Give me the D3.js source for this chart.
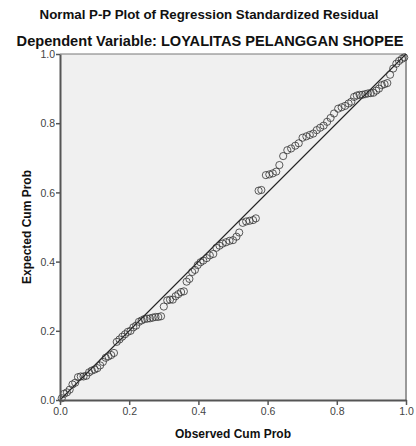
<!DOCTYPE html>
<html>
<head>
<meta charset="utf-8">
<script src="https://cdn.jsdelivr.net/npm/d3@7"></script>
<style>
  body { margin: 0; background: #fff; }
  svg { display: block; font-family: "Liberation Sans", Arial, sans-serif; }
</style>
</head>
<body>
<div id="chart"></div>
<script>
// Normal P-P plot, residuals

const TITLE = "Normal P-P Plot of Regression Standardized Residual";
const SUBTITLE = "Dependent Variable: LOYALITAS PELANGGAN SHOPEE";
const X_LABEL = "Observed Cum Prob";
const Y_LABEL = "Expected Cum Prob";
const TICKS = [0, 0.2, 0.4, 0.6, 0.8, 1.0];

// observed cum prob
const observed = [
  0.005, 0.012, 0.020, 0.028, 0.036, 0.044, 0.052, 0.060, 0.068, 0.076,
  0.084, 0.092, 0.100, 0.108, 0.116, 0.124, 0.132, 0.140, 0.148, 0.156,
  0.164, 0.172, 0.180, 0.188, 0.196, 0.204, 0.212, 0.220, 0.228, 0.236,
  0.244, 0.252, 0.260, 0.268, 0.276, 0.284, 0.292, 0.300, 0.310, 0.318,
  0.326, 0.334, 0.342, 0.350, 0.358, 0.366, 0.374, 0.382, 0.390, 0.398,
  0.406, 0.414, 0.424, 0.433, 0.443, 0.452, 0.461, 0.470, 0.480, 0.490,
  0.500, 0.510, 0.518, 0.528, 0.538, 0.548, 0.558, 0.566, 0.574, 0.582,
  0.595, 0.605, 0.615, 0.625, 0.634, 0.645, 0.657, 0.668, 0.680, 0.690,
  0.701, 0.712, 0.722, 0.732, 0.742, 0.752, 0.762, 0.772, 0.782, 0.792,
  0.804, 0.814, 0.824, 0.834, 0.842, 0.850, 0.858, 0.866, 0.874, 0.882,
  0.890, 0.898, 0.906, 0.914, 0.922, 0.930, 0.938, 0.946, 0.954, 0.963,
  0.972, 0.980, 0.988, 0.995
];
// expected cum prob
const expected = [
  0.005, 0.018, 0.022, 0.030, 0.045, 0.050, 0.066, 0.068, 0.068, 0.070,
  0.080, 0.085, 0.088, 0.092, 0.100, 0.110, 0.122, 0.126, 0.130, 0.136,
  0.168, 0.175, 0.183, 0.190, 0.197, 0.200, 0.210, 0.215, 0.226, 0.230,
  0.234, 0.235, 0.236, 0.238, 0.240, 0.240, 0.242, 0.270, 0.288, 0.290,
  0.290, 0.300, 0.306, 0.312, 0.314, 0.342, 0.350, 0.370, 0.376, 0.390,
  0.398, 0.403, 0.410, 0.418, 0.422, 0.440, 0.446, 0.452, 0.456, 0.460,
  0.462, 0.472, 0.484, 0.512, 0.516, 0.518, 0.520, 0.525, 0.605, 0.607,
  0.650, 0.652, 0.655, 0.660, 0.679, 0.705, 0.722, 0.727, 0.735, 0.742,
  0.758, 0.762, 0.766, 0.770, 0.780, 0.787, 0.793, 0.804, 0.815, 0.828,
  0.842, 0.846, 0.850, 0.857, 0.862, 0.876, 0.880, 0.882, 0.882, 0.884,
  0.886, 0.887, 0.888, 0.894, 0.900, 0.910, 0.913, 0.916, 0.940, 0.958,
  0.972, 0.980, 0.986, 0.990
];

const W = 416, H = 446;
const plot = { left: 60, top: 54, size: 346 };

const svg = d3.select("#chart").append("svg")
  .attr("width", W)
  .attr("height", H);

const x = d3.scaleLinear().domain([0, 1]).range([plot.left, plot.left + plot.size]);
const y = d3.scaleLinear().domain([0, 1]).range([plot.top + plot.size, plot.top]);

// titles
svg.append("text")
  .attr("x", 209).attr("y", 19)
  .attr("text-anchor", "middle")
  .attr("font-size", 13.3).attr("font-weight", "bold")
  .attr("fill", "#111")
  .text(TITLE);

svg.append("text")
  .attr("x", 210).attr("y", 46)
  .attr("text-anchor", "middle")
  .attr("font-size", 14.6).attr("font-weight", "bold")
  .attr("fill", "#111")
  .text(SUBTITLE);

// plot background
svg.append("rect")
  .attr("x", x(0)).attr("y", y(1))
  .attr("width", x(1) - x(0)).attr("height", y(0) - y(1))
  .attr("fill", "#f0f0f0");

// frame: top thin, right light gray
svg.append("line")
  .attr("x1", x(0)).attr("x2", x(1)).attr("y1", y(1)).attr("y2", y(1))
  .attr("stroke", "#777").attr("stroke-width", 1);
svg.append("line")
  .attr("x1", x(1)).attr("x2", x(1)).attr("y1", y(1)).attr("y2", y(0))
  .attr("stroke", "#999").attr("stroke-width", 2);

// diagonal reference
svg.append("line")
  .attr("x1", x(0)).attr("y1", y(0)).attr("x2", x(1)).attr("y2", y(1))
  .attr("stroke", "#222").attr("stroke-width", 1.1);

// points
svg.append("g")
  .selectAll("circle")
  .data(observed.map((o, i) => ({ o, e: expected[i] })))
  .enter()
  .append("circle")
  .attr("cx", d => x(d.o))
  .attr("cy", d => y(d.e))
  .attr("r", 3.6)
  .attr("fill", "none")
  .attr("stroke", "#333")
  .attr("stroke-width", 0.8);

// axes
const fmt = d3.format(".1f");
const xAxis = svg.append("g")
  .attr("transform", `translate(0,${y(0)})`)
  .call(d3.axisBottom(x).tickValues(TICKS).tickFormat(fmt).tickSize(5).tickSizeOuter(0));
const yAxis = svg.append("g")
  .attr("transform", `translate(${x(0)},0)`)
  .call(d3.axisLeft(y).tickValues(TICKS).tickFormat(fmt).tickSize(4).tickSizeOuter(0));

[xAxis, yAxis].forEach(a => {
  a.select(".domain").attr("stroke", "#555").attr("stroke-width", 2);
  a.selectAll(".tick line").attr("stroke", "#555").attr("stroke-width", 1.5);
  a.selectAll(".tick text")
    .attr("fill", "#444")
    .attr("font-size", 10.5)
    .attr("font-family", "Liberation Sans, Arial, sans-serif");
});
xAxis.selectAll(".tick text").attr("dy", "0.85em").attr("y", 6);
yAxis.selectAll(".tick text").attr("x", -5).attr("dy", "0.35em");

// axis titles
svg.append("text")
  .attr("x", 233).attr("y", 438)
  .attr("text-anchor", "middle")
  .attr("font-size", 12).attr("font-weight", "bold")
  .attr("fill", "#111")
  .text(X_LABEL);

svg.append("text")
  .attr("transform", `translate(31,${y(0.5)}) rotate(-90)`)
  .attr("text-anchor", "middle")
  .attr("font-size", 12).attr("font-weight", "bold")
  .attr("fill", "#111")
  .text(Y_LABEL);
</script>
</body>
</html>
